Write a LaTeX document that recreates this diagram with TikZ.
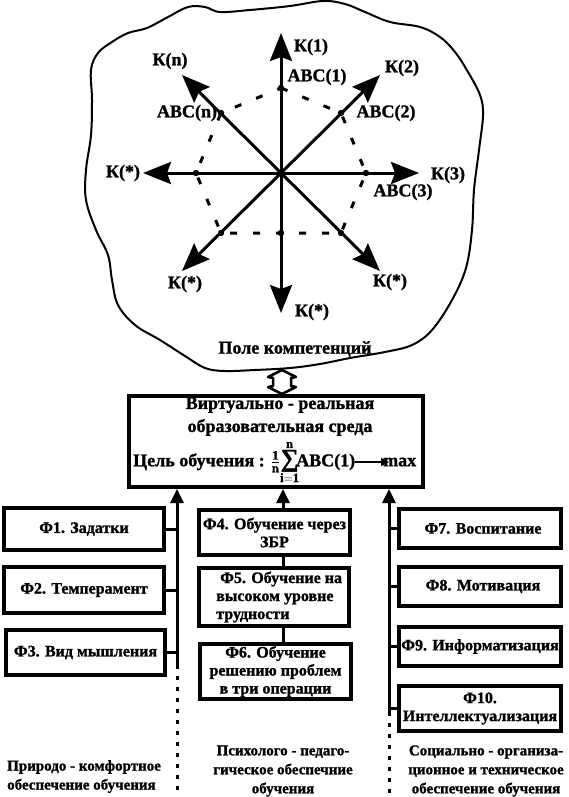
\documentclass[tikz,border=0pt]{standalone}
\usepackage{fontspec}
\setmainfont{Liberation Serif}[BoldFeatures={FakeBold=1.3}]
\usetikzlibrary{arrows.meta,calc}
\begin{document}
\begin{tikzpicture}[x=1pt,y=-1pt,
  lbl/.style={font=\fontsize{18}{22}\selectfont\bfseries, inner sep=0pt},
  fbox/.style={draw, line width=3.5pt, font=\fontsize{16}{18}\selectfont\bfseries, align=center, inner sep=0pt},
  ftext/.style={font=\fontsize{16}{18}\selectfont\bfseries, inner sep=0pt},
  foot/.style={font=\fontsize{15}{19}\selectfont\bfseries, inner sep=0pt},
  stararrow/.style={line width=3pt, -{Stealth[length=28pt,width=22pt,inset=4pt]}},
  dpoly/.style={line width=3pt, dash pattern=on 7pt off 16pt},
  busarrow/.style={line width=3pt, -{Triangle[length=14pt,width=13pt]}},
  busline/.style={line width=3pt},
  dotline/.style={line width=3pt, dash pattern=on 4pt off 7pt},
]
\useasboundingbox (0,0) rectangle (568,797);
% cloud
\draw[line width=2pt] plot[smooth cycle, tension=0.6] coordinates {
 (290,6) (323,1) (345,4) (365,12) (390,22) (420,27) (440,37) (455,52) (468,72)
 (480,95) (483,115) (479,150) (474,190) (472,230) (466,268) (452,300) (432,330)
 (412,345) (385,352) (350,358) (320,364) (290,368) (255,370) (225,371) (205,368)
 (185,356) (160,340) (135,325) (118,305) (112,280) (108,255) (96,230) (86,200)
 (86,170) (91,135) (92,100) (91,70) (98,53) (112,42) (128,33) (147,28) (168,17)
 (188,7) (205,7) (220,12) (250,10)};
% star
\coordinate (C) at (281,173);
\coordinate (k1) at (281,33);
\coordinate (k2) at (380,75);
\coordinate (k3) at (419,173);
\coordinate (k4) at (380,271);
\coordinate (k5) at (281,313);
\coordinate (k6) at (182,271);
\coordinate (k7) at (143,173);
\coordinate (k8) at (182,75);
\foreach \k in {k1,k2,k3,k4,k5,k6,k7,k8} \draw[stararrow] (C) -- (\k);
\coordinate (a1) at (281,88);
\coordinate (a2) at (341,113);
\coordinate (a3) at (366,173);
\coordinate (a4) at (341,233);
\coordinate (a5) at (281,233);
\coordinate (a6) at (221,233);
\coordinate (a7) at (196,173);
\coordinate (a8) at (221,113);
\draw[dpoly] (a1) -- (a2) -- (a3) -- (a4) -- (a5) -- (a6) -- (a7) -- (a8) -- cycle;
\foreach \a in {a1,a2,a3,a4,a5,a6,a7,a8} \fill (\a) circle (3.2);
% star labels
\node[lbl] (lk1) at (311,47) {К(1)};
\node[lbl] (la1) at (317,77) {ABC(1)};
\node[lbl] (lk2) at (402,68) {К(2)};
\node[lbl] (la2) at (386,113) {ABC(2)};
\node[lbl] (lkn) at (170,61) {К(n)};
\node[lbl] (lan) at (187,113) {ABC(n)};
\node[lbl] (lk7) at (123,173) {К(*)};
\node[lbl] (lk3) at (448,175) {К(3)};
\node[lbl] (la3) at (403,192) {ABC(3)};
\node[lbl] (lk6) at (185,284) {К(*)};
\node[lbl] (lk5) at (312,312) {К(*)};
\node[lbl] (lk4) at (390,282) {К(*)};
\node[lbl] (field) at (295,349) {Поле компетенций};
% double arrow between cloud and box
\draw[line width=2.5pt, fill=white, line join=round] (282,370) -- (296,377) -- (291,378) -- (291,386) -- (296,387) -- (282,394)
  -- (268,387) -- (273,386) -- (273,378) -- (268,377) -- cycle;
% main box
\node[draw, line width=4pt, minimum width=294pt, minimum height=91pt] (env) at (276,441.5) {};
\node[lbl, align=center, font=\fontsize{18}{23}\selectfont\bfseries] (envt) at (280,416.5) {Виртуально - реальная\\образовательная среда};
\node[lbl, anchor=west] (goal) at (133,462) {Цель обучения : $\frac{\mathbf 1}{\mathbf n}\!\mathop{\hbox{\fontsize{25}{25}\selectfont ∑}}\limits^{\mathbf n}_{\mathbf{i=1}}\!$ABC(1)};
\node[lbl, anchor=west] (mx) at (383,462) {max};
\draw[line width=1.6pt, -{Triangle[length=8pt,width=8pt]}] (goal.east) -- ([xshift=6pt]mx.west);
% factor boxes
\node[fbox, minimum width=160pt, minimum height=42pt] (f1) at (84,529) {Ф1. Задатки};
\node[fbox, minimum width=160pt, minimum height=46pt] (f2) at (84,590) {Ф2. Темперамент};
\node[fbox, minimum width=159pt, minimum height=45pt] (f3) at (85.5,652.5) {Ф3. Вид мышления};
\node[fbox, minimum width=151pt, minimum height=45pt] (f4) at (274.5,532.5) {Ф4. Обучение через\\ЗБР};
\node[fbox, minimum width=150pt, minimum height=58pt] (f5) at (274,597) {};
\node[ftext, align=left, anchor=west] (f5t) at (216,597) {\hspace*{4pt}Ф5. Обучение на\\высоком уровне\\трудности};
\node[fbox, minimum width=151pt, minimum height=55pt] (f6) at (275.5,671.5) {Ф6. Обучение\\решению проблем\\в три операции};
\node[fbox, minimum width=162pt, minimum height=39pt] (f7) at (480,528.5) {\hspace*{6pt}Ф7. Воспитание};
\node[fbox, minimum width=162pt, minimum height=39pt] (f8) at (480,586.5) {\hspace*{6pt}Ф8. Мотивация};
\node[fbox, minimum width=162pt, minimum height=39pt] (f9) at (480,646.5) {Ф9. Информатизация};
\node[fbox, minimum width=162pt, minimum height=45pt] (f10) at (480,708.5) {Ф10.\\Интеллектуализация};
% left bus
\coordinate (lbot) at (177,665);
\coordinate (lend) at (177,797);
\draw[busarrow] (lbot) -- (lbot |- env.south);
\foreach \f in {f1,f2,f3} \draw[busline] (\f.east) -- (\f.east -| lbot);
\draw[dotline] (lbot) -- (lend);
% middle bus
\coordinate (mb) at (283,0);
\draw[busarrow] (f4.north -| mb) -- (env.south -| mb);
\draw[busline] (f4.south -| mb) -- (f5.north -| mb);
\draw[busline] (f5.south -| mb) -- (f6.north -| mb);
% right bus
\coordinate (rbot) at (389,712);
\coordinate (rend) at (389,797);
\draw[busarrow] (rbot) -- (rbot |- env.south);
\foreach \f in {f7,f8,f9,f10} \draw[busline] (\f.west) -- (\f.west -| rbot);
\draw[dotline] (rbot) -- (rend);
% footer labels
\node[foot, align=left, anchor=west] (b1) at (7,776.5) {Природо - комфортное\\обеспечение обучения};
\node[foot, align=center] (b2) at (283,771) {Психолого - педаго-\\гическое обеспечние\\обучения};
\node[foot, align=center] (b3) at (486,771) {Социально - организа-\\ционное и техническое\\обеспечение обучения};
\end{tikzpicture}
\end{document}
